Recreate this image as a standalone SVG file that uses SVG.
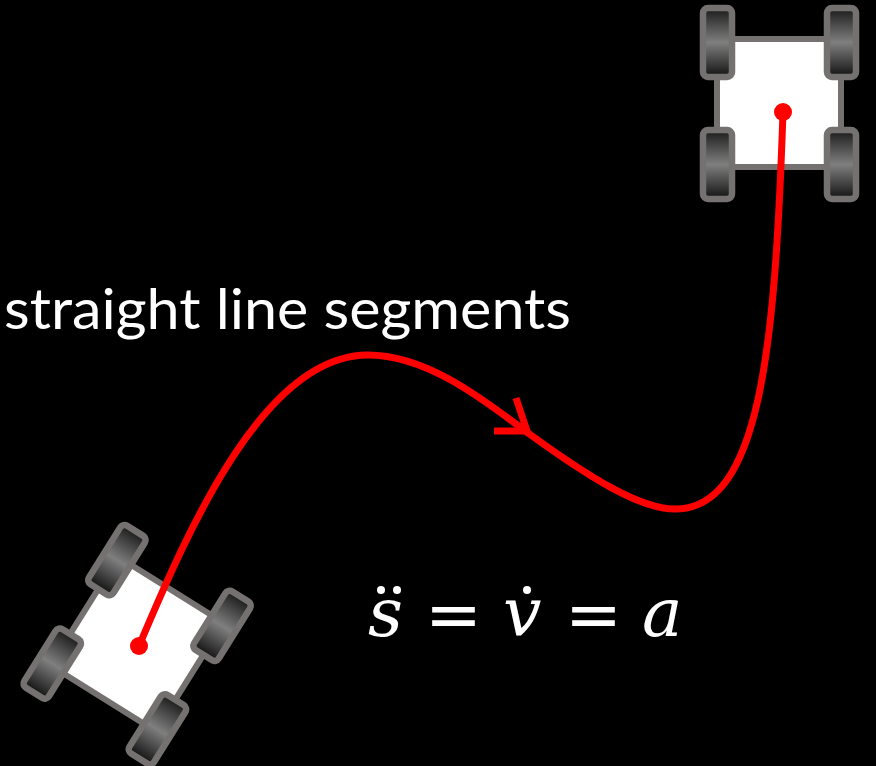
<svg xmlns="http://www.w3.org/2000/svg" width="876" height="766" viewBox="0 0 876 766">
<style>
.body{fill:#fff;stroke:#767171;stroke-width:6}
.wheel{fill:url(#tire);stroke:#767171;stroke-width:6.5}
.path{fill:none;stroke:#f00;stroke-width:7;stroke-linecap:butt;stroke-linejoin:miter}
.dot{fill:#f00}
.label{fill:#fff;font-family:Lato,"Open Sans",sans-serif;font-size:56px}
.math{fill:#fff;font-family:"DejaVu Serif",serif;font-size:68px;font-style:italic}
.eq{fill:#fff;font-family:"DejaVu Sans",sans-serif;font-size:68px}
</style>
<defs>
<linearGradient id="tire" x1="0" y1="0" x2="0" y2="1">
<stop offset="0" stop-color="#1a1a1a"/><stop offset="0.5" stop-color="#7f7f7f"/><stop offset="1" stop-color="#111"/>
</linearGradient>
<g id="robot">
<rect class="body" x="-62" y="-64" width="124" height="128"/>
<rect class="wheel" x="-76" y="-95" width="29" height="69" rx="5"/>
<rect class="wheel" x="48" y="-95" width="29" height="69" rx="5"/>
<rect class="wheel" x="-76" y="27" width="29" height="69" rx="5"/>
<rect class="wheel" x="48" y="27" width="29" height="69" rx="5"/>
</g>
</defs>
<rect width="876" height="766" fill="#000"/>
<g id="robot-end"><use href="#robot" transform="translate(779,103)"/></g>
<g id="robot-start"><use href="#robot" transform="translate(137,644) rotate(32)"/></g>
<g id="connectors">
<path class="path" d="M139,646 C190,525 265,355 368,355 C430,355 490,405 528,433 C590,478 640,509 675,509 C760,509 775,350 783,112"/>
<path class="path" d="M494,431 L527,431 L516,398"/>
</g>
<circle class="dot" cx="139" cy="646" r="9"/>
<circle class="dot" cx="783" cy="112" r="9"/>
<text class="label" x="4" y="329" textLength="567" lengthAdjust="spacingAndGlyphs">straight line segments</text>
<g id="equation">
<text class="math" x="368" y="636">s</text>
<circle cx="381" cy="590" r="4" fill="#fff"/><circle cx="397" cy="590" r="4" fill="#fff"/>
<text class="eq" x="425" y="638">=</text>
<text class="math" x="503" y="636">v</text>
<circle cx="527" cy="590" r="4" fill="#fff"/>
<text class="eq" x="565" y="638">=</text>
<text class="math" x="642" y="636">a</text>
</g>
</svg>
